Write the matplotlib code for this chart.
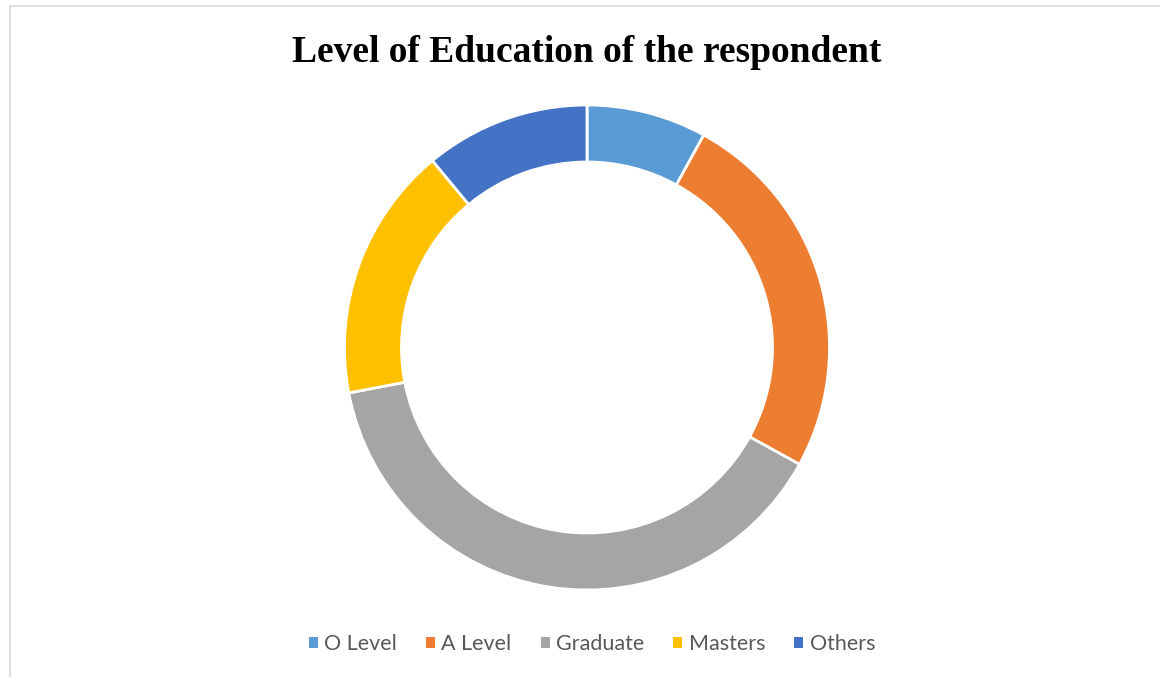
import matplotlib
matplotlib.use('Agg')
from matplotlib import pyplot as plt
from matplotlib.lines import Line2D
from matplotlib.patches import Patch

# education level shares (%)
levels = ['O Level', 'A Level', 'Graduate', 'Masters', 'Others']
shares = [8, 25, 39, 17, 11]
colors = ['#5B9BD5', '#ED7D31', '#A5A5A5', '#FFC000', '#4472C4']

W, H = 1160, 677
fig = plt.figure(figsize=(W / 100, H / 100), dpi=100)
fig.patch.set_facecolor('white')

# thin chart-area frame (top and left edges)
fig.add_artist(Line2D([10 / W, 10 / W, 1], [0, 1 - 6 / H, 1 - 6 / H],
                      transform=fig.transFigure, color='#D9D9D9', lw=1.2))

cx, cy, r = 587, 347.5, 242.5
ax = fig.add_axes([(cx - r) / W, (H - cy - r) / H, 2 * r / W, 2 * r / H])
ax.pie(shares, colors=colors, startangle=90, counterclock=False, radius=1,
       wedgeprops=dict(width=0.235, edgecolor='white', linewidth=2))
ax.set_xlim(-1, 1)
ax.set_ylim(-1, 1)
ax.axis('off')

fig.text(587 / W, 1 - 52 / H, 'Level of Education of the respondent',
         ha='center', va='center', fontsize=27, fontweight='bold',
         family='Liberation Serif', color='black')

handles = [Patch(facecolor=c, edgecolor='none') for c in colors]
fig.legend(handles, levels, loc='center', bbox_to_anchor=(592 / W, 1 - 644 / H),
           ncol=5, frameon=False, prop={'family': 'Lato', 'size': 15.5},
           labelcolor='#595959', handlelength=0.42, handleheight=0.42,
           handletextpad=0.3, columnspacing=1.35)

fig.savefig('out.png', dpi=100)
